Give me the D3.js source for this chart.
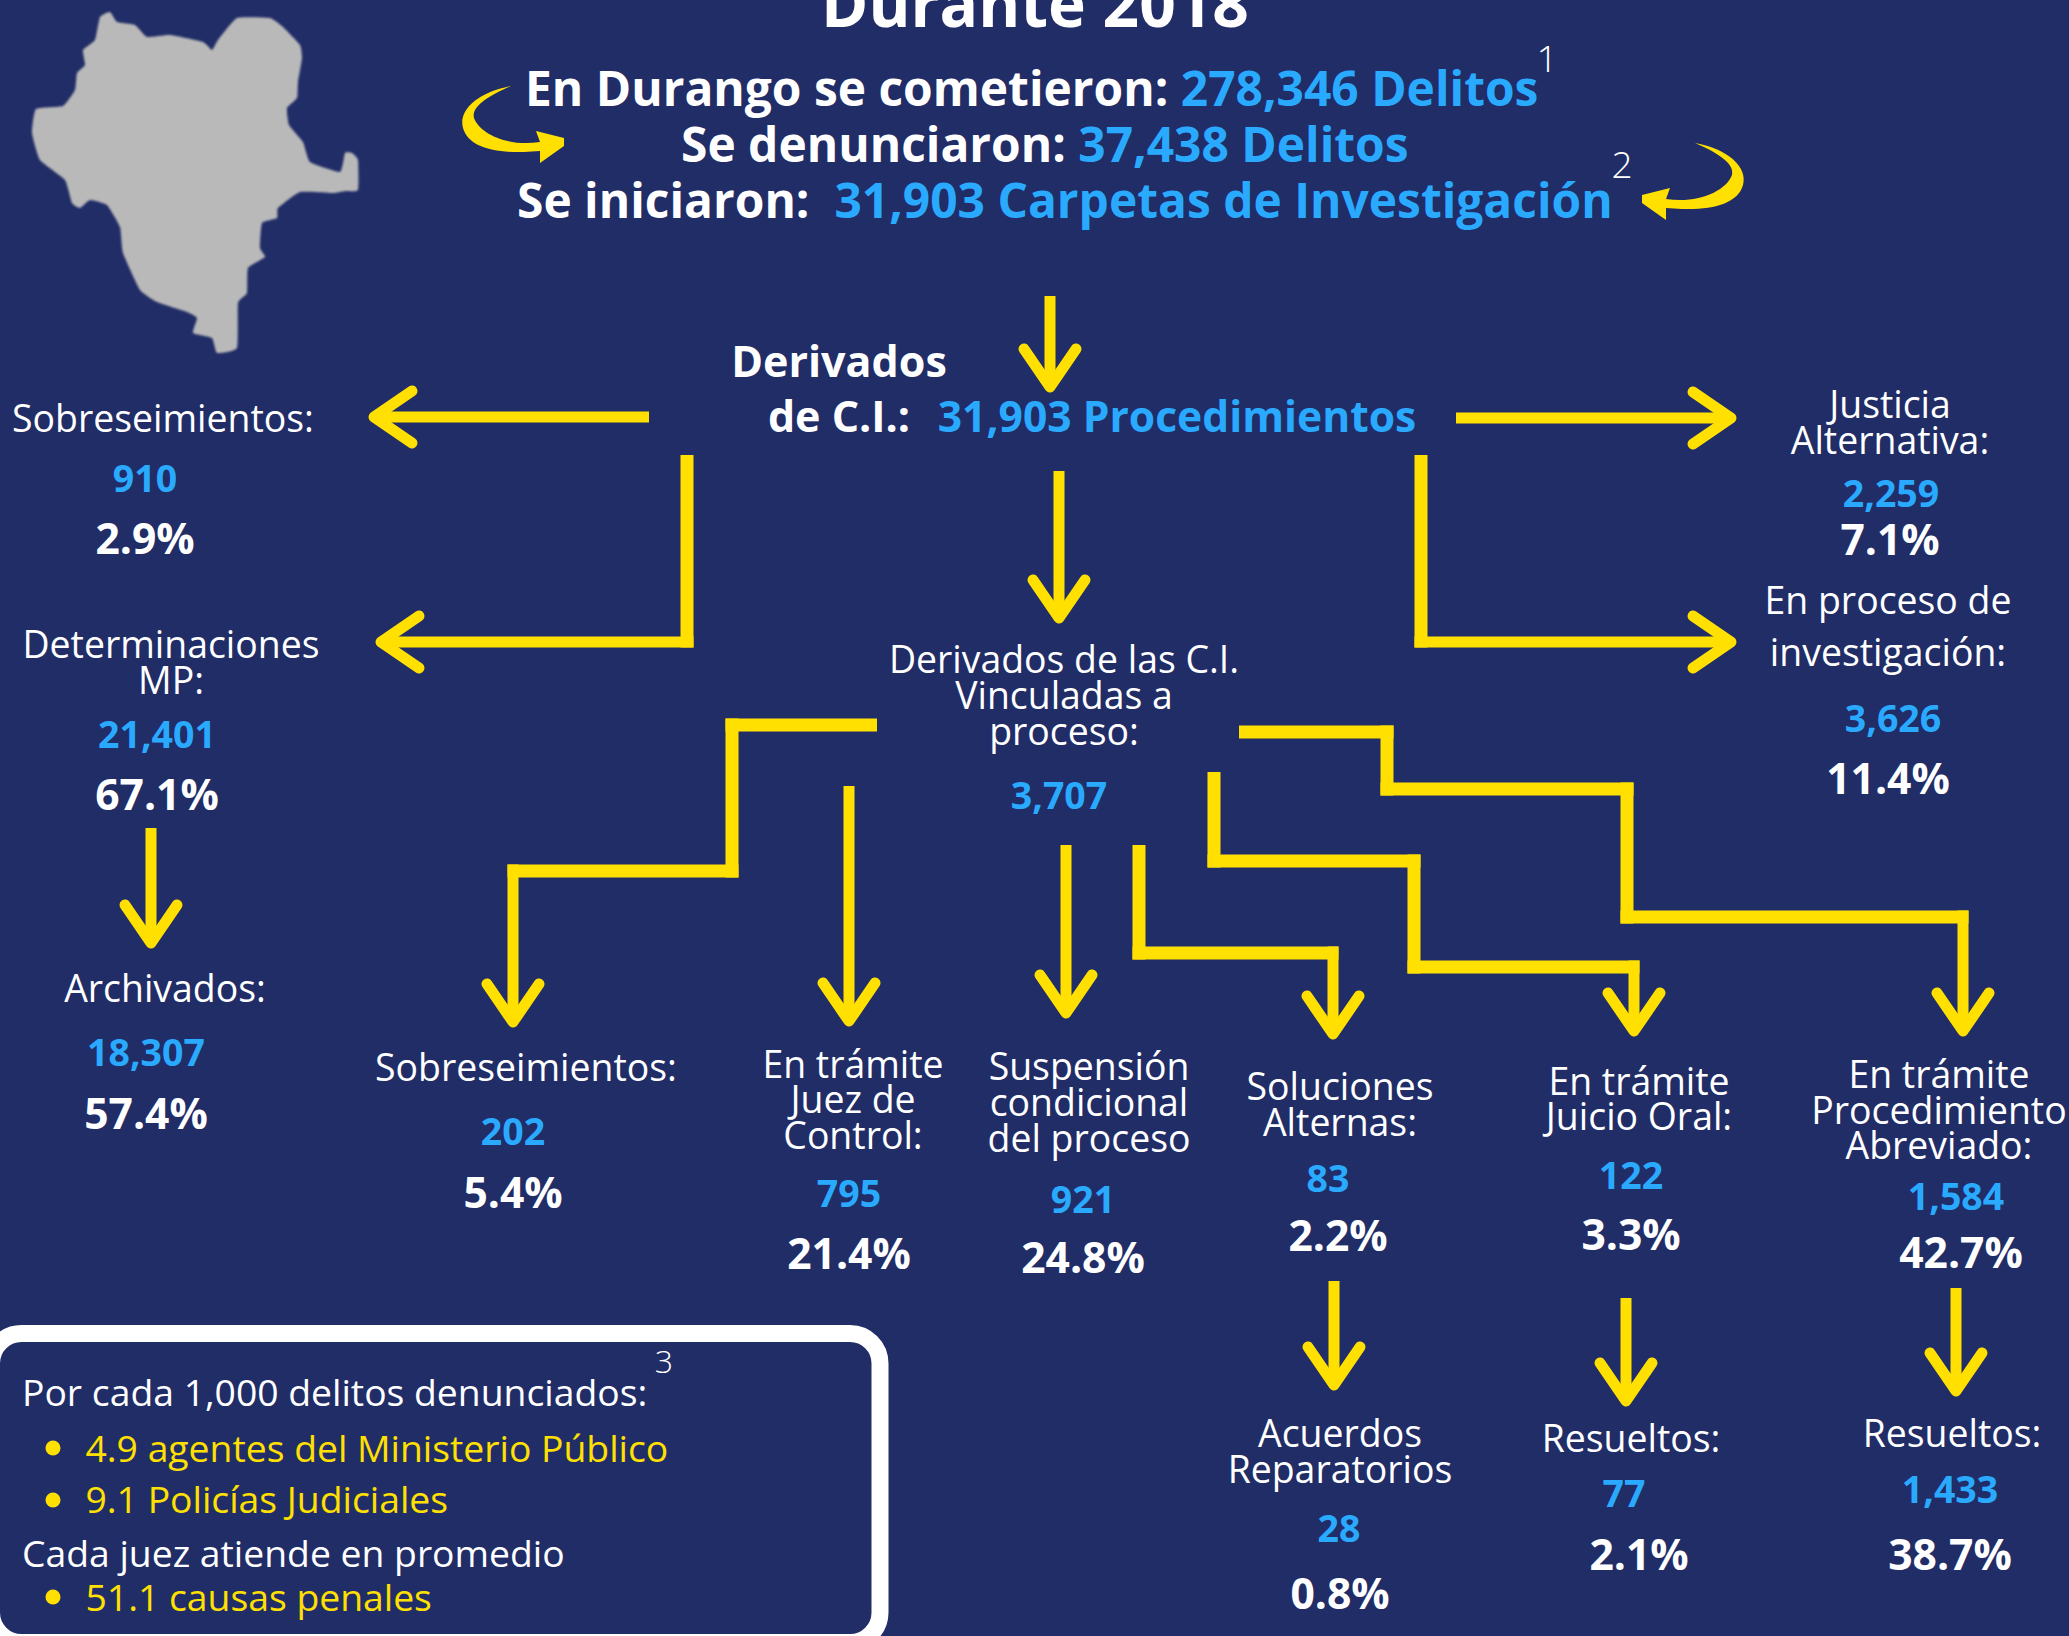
<!DOCTYPE html>
<html>
<head>
<meta charset="utf-8">
<script src="https://cdn.jsdelivr.net/npm/d3@7"></script>
<style>
  html, body { margin: 0; padding: 0; background: #212d67; }
  svg { display: block; }
  text { font-family: "Open Sans", sans-serif; white-space: pre; }
</style>
</head>
<body>
<div id="chart"></div>
<script>
// 1: DATA
const titleText = "Durante 2018";
const headlineLabels = ["En Durango se cometieron: ", "Se denunciaron: ", "Se iniciaron:  "];
const headlineValues = ["278,346 Delitos", "37,438 Delitos", "31,903 Carpetas de Investigación"];

// one entry per box of the flow, same order in the three lists
const nodeLabels = [
    ["Sobreseimientos:"],
    ["Determinaciones", "MP:"],
    ["Archivados:"],
    ["Justicia", "Alternativa:"],
    ["En proceso de", "investigación:"],
    ["Sobreseimientos:"],
    ["En trámite", "Juez de", "Control:"],
    ["Suspensión", "condicional", "del proceso"],
    ["Soluciones", "Alternas:"],
    ["En trámite", "Juicio Oral:"],
    ["En trámite", "Procedimiento", "Abreviado:"],
    ["Acuerdos", "Reparatorios"],
    ["Resueltos:"],
    ["Resueltos:"]
];
const nodeValues = [910, 21401, 18307, 2259, 3626, 202, 795, 921, 83, 122, 1584, 28, 77, 1433];
const nodeShares = [2.9, 67.1, 57.4, 7.1, 11.4, 5.4, 21.4, 24.8, 2.2, 3.3, 42.7, 0.8, 2.1, 38.7];

const derivedTotal = 31903;
const linkedLabels = ["Derivados de las C.I.", "Vinculadas a", "proceso:"];
const linkedValue = 3707;

const boxHeader = "Por cada 1,000 delitos denunciados:";
const boxItems1 = ["4.9 agentes del Ministerio Público", "9.1 Policías Judiciales"];
const boxHeader2 = "Cada juez atiende en promedio";
const boxItems2 = ["51.1 causas penales"];

// 2: LAYOUT (separate from the values)
const W = 2069, H = 1636;
const colors = { bg: "#212d67", yellow: "#ffe000", blue: "#2aaaff", white: "#ffffff", map: "#b9b9b9" };

// label x, label baselines, value x / baseline, share x / baseline
const nodeLayout = [
    { lx: 163, ly: [432], vx: 145, vy: 492, sx: 145, sy: 554 },
    { lx: 171, ly: [658, 694], vx: 157, vy: 748, sx: 157, sy: 810 },
    { lx: 165, ly: [1002], vx: 146, vy: 1066, sx: 146, sy: 1129 },
    { lx: 1890, ly: [418, 454], vx: 1891, vy: 507, sx: 1890, sy: 555 },
    { lx: 1888, ly: [614, 666], vx: 1893, vy: 732, sx: 1888, sy: 794 },
    { lx: 526, ly: [1081], vx: 513, vy: 1145, sx: 513, sy: 1208 },
    { lx: 853, ly: [1078, 1113, 1149], vx: 849, vy: 1207, sx: 849, sy: 1269 },
    { lx: 1089, ly: [1080, 1116, 1152], vx: 1083, vy: 1213, sx: 1083, sy: 1273 },
    { lx: 1340, ly: [1100, 1136], vx: 1328, vy: 1192, sx: 1338, sy: 1251 },
    { lx: 1639, ly: [1095, 1130], vx: 1631, vy: 1189, sx: 1631, sy: 1250 },
    { lx: 1939, ly: [1088, 1124, 1159], vx: 1956, vy: 1210, sx: 1961, sy: 1268 },
    { lx: 1340, ly: [1447, 1483], vx: 1339, vy: 1542, sx: 1340, sy: 1609 },
    { lx: 1631, ly: [1452], vx: 1624, vy: 1507, sx: 1639, sy: 1570 },
    { lx: 1952, ly: [1447], vx: 1950, vy: 1503, sx: 1950, sy: 1570 }
];

// straight arrows and stepped connectors; w = stroke of each segment, head at the last point
const arrowRoutes = [
    { pts: [[649, 417], [374, 417]], w: [11] },
    { pts: [[687, 455], [687, 642], [381, 642]], w: [13, 11] },
    { pts: [[1050, 296], [1050, 387]], w: [11] },
    { pts: [[1059, 471], [1059, 618]], w: [11] },
    { pts: [[1456, 418], [1731, 418]], w: [11] },
    { pts: [[1421, 455], [1421, 642], [1731, 642]], w: [13, 11] },
    { pts: [[151, 828], [151, 943]], w: [11] },
    { pts: [[877, 725], [732, 725], [732, 871], [513, 871], [513, 1022]], w: [13, 13, 13, 11] },
    { pts: [[849, 786], [849, 1021]], w: [11] },
    { pts: [[1066, 845], [1066, 1013]], w: [11] },
    { pts: [[1139, 845], [1139, 953], [1333, 953], [1333, 1034]], w: [13, 13, 11] },
    { pts: [[1214, 772], [1214, 861], [1414, 861], [1414, 967], [1634, 967], [1634, 1031]], w: [13, 13, 13, 13, 11] },
    { pts: [[1239, 732], [1387, 732], [1387, 789], [1627, 789], [1627, 917], [1963, 917], [1963, 1031]], w: [13, 13, 13, 13, 13, 11] },
    { pts: [[1334, 1281], [1334, 1385]], w: [11] },
    { pts: [[1626, 1298], [1626, 1401]], w: [11] },
    { pts: [[1956, 1288], [1956, 1391]], w: [11] }
];

const durangoOutline = [
    [110, 12], [117, 22], [135, 25], [147, 37], [170, 35], [203, 42], [212, 50], [218, 40], [237, 18],
    [270, 18], [283, 27], [300, 45], [302, 58], [298, 82], [297, 98], [287, 108], [289, 125], [303, 142],
    [310, 162], [340, 172], [345, 153], [352, 153], [358, 160], [358, 190], [345, 191], [333, 193], [300, 192], [278, 208],
    [277, 218], [262, 223], [260, 248], [265, 257], [248, 268], [247, 293], [238, 303], [237, 348],
    [217, 353], [212, 338], [193, 333], [197, 318], [187, 312], [157, 302], [140, 290], [123, 253],
    [120, 227], [107, 205], [90, 200], [80, 208], [72, 203], [65, 180], [40, 160], [32, 133], [36, 109],
    [63, 106], [75, 90], [77, 73], [85, 65], [83, 50], [95, 40], [100, 17]
];

// 3: SVG
const svg = d3.select("#chart")
    .append("svg")
    .attr("width", W)
    .attr("height", H)
    .style("background", colors.bg);

svg.append("defs").append("filter")
    .attr("id", "soft")
    .append("feGaussianBlur")
    .attr("stdDeviation", 1);

function addText(parent, x, y, str, size, weight, fill, anchor) {
    return parent.append("text")
        .attr("x", x)
        .attr("y", y)
        .attr("font-size", size)
        .attr("font-weight", weight)
        .attr("fill", fill)
        .attr("text-anchor", anchor || "middle")
        .text(str);
}

// 4: MAP
svg.append("path")
    .attr("d", d3.line().curve(d3.curveCardinalClosed.tension(0.6))(durangoOutline))
    .attr("fill", colors.map)
    .attr("filter", "url(#soft)");

// 5: HEADER
addText(svg, 1035, 27, titleText, 64, 700, colors.white);

const headlineLayout = [{ x: 525, y: 106 }, { x: 681, y: 162 }, { x: 517, y: 218 }];
headlineLabels.forEach((label, i) => {
    const t = svg.append("text")
        .attr("x", headlineLayout[i].x)
        .attr("y", headlineLayout[i].y)
        .attr("font-size", 47.9)
        .attr("font-weight", 700);
    t.append("tspan").attr("fill", colors.white).text(label);
    t.append("tspan").attr("fill", colors.blue).text(headlineValues[i]);
});
addText(svg, 1547, 72, "1", 37, 300, colors.white);
addText(svg, 1622, 178, "2", 37, 300, colors.white);

// curved arrows next to the header
function swoosh() {
    const p = d3.path();
    p.moveTo(511, 86);
    p.bezierCurveTo(478, 92, 458, 110, 463, 128);
    p.bezierCurveTo(468, 146, 492, 153, 524, 152);
    p.lineTo(540, 151);
    p.lineTo(540, 163);
    p.lineTo(564, 146);
    p.lineTo(564, 138);
    p.lineTo(536, 131);
    p.lineTo(540, 142);
    p.bezierCurveTo(508, 147, 480, 134, 474, 118);
    p.bezierCurveTo(471, 106, 490, 95, 511, 86);
    p.closePath();
    return p.toString();
}
svg.append("path").attr("d", swoosh()).attr("fill", colors.yellow);
svg.append("path")
    .attr("d", swoosh())
    .attr("fill", colors.yellow)
    .attr("transform", "translate(2206,57) scale(-1,1)");

// 6: ARROWS
function drawRoute(route) {
    const n = route.pts.length - 1;
    d3.range(n).forEach(i => {
        let [x1, y1] = route.pts[i];
        let [x2, y2] = route.pts[i + 1];
        const dx = Math.sign(x2 - x1), dy = Math.sign(y2 - y1);
        // extend the segment into its corners so the joins are square
        if (i > 0) { x1 -= dx * route.w[i - 1] / 2; y1 -= dy * route.w[i - 1] / 2; }
        if (i < n - 1) { x2 += dx * route.w[i + 1] / 2; y2 += dy * route.w[i + 1] / 2; }
        svg.append("line")
            .attr("x1", x1).attr("y1", y1)
            .attr("x2", x2).attr("y2", y2)
            .attr("stroke", colors.yellow)
            .attr("stroke-width", route.w[i]);
    });
    // head at the last point
    const [ax, ay] = route.pts[n - 1];
    const [bx, by] = route.pts[n];
    const dx = Math.sign(bx - ax), dy = Math.sign(by - ay);
    const headLen = 38, headHalf = 26;
    const arm = [
        [bx - dx * headLen - dy * headHalf, by - dy * headLen - dx * headHalf],
        [bx, by],
        [bx - dx * headLen + dy * headHalf, by - dy * headLen + dx * headHalf]
    ];
    svg.append("path")
        .attr("d", d3.line()(arm))
        .attr("fill", "none")
        .attr("stroke", colors.yellow)
        .attr("stroke-width", 11)
        .attr("stroke-linecap", "round")
        .attr("stroke-linejoin", "round");
}
arrowRoutes.forEach(drawRoute);

// 7: CENTRAL TEXTS
addText(svg, 839, 377, "Derivados", 43, 700, colors.white);
addText(svg, 839, 432, "de C.I.:", 43, 700, colors.white);
addText(svg, 1177, 432, d3.format(",")(derivedTotal) + " Procedimientos", 42.6, 700, colors.blue);

const linkedY = [673, 709, 745];
linkedLabels.forEach((l, i) => addText(svg, 1064, linkedY[i], l, 37.4, 400, colors.white));
addText(svg, 1059, 809, d3.format(",")(linkedValue), 37.5, 700, colors.blue);

// 8: NODES
const fmtValue = d3.format(",");
const fmtShare = d3.format(".1f");
nodeLabels.forEach((lines, i) => {
    const pos = nodeLayout[i];
    lines.forEach((line, j) => addText(svg, pos.lx, pos.ly[j], line, 37.4, 400, colors.white));
    addText(svg, pos.vx, pos.vy, fmtValue(nodeValues[i]), 37.5, 700, colors.blue);
    addText(svg, pos.sx, pos.sy, fmtShare(nodeShares[i]) + "%", 42.6, 700, colors.white);
});

// 9: BOX
svg.append("rect")
    .attr("x", -8.5).attr("y", 1333.5)
    .attr("width", 888.5).attr("height", 309)
    .attr("rx", 30)
    .attr("fill", colors.bg)
    .attr("stroke", colors.white)
    .attr("stroke-width", 17);

addText(svg, 22, 1406, boxHeader, 37.3, 400, colors.white, "start");
addText(svg, 664, 1373, "3", 32, 300, colors.white);
const boxBullets = [
    { t: boxItems1[0], y: 1462, by: 1448 },
    { t: boxItems1[1], y: 1513, by: 1500 },
    { t: boxItems2[0], y: 1611, by: 1597 }
];
boxBullets.forEach(b => {
    svg.append("circle").attr("cx", 53).attr("cy", b.by).attr("r", 7.5).attr("fill", colors.yellow);
    addText(svg, 85.5, b.y, b.t, 37.3, 400, colors.yellow, "start");
});
addText(svg, 22, 1567, boxHeader2, 37.3, 400, colors.white, "start");
</script>
</body>
</html>
